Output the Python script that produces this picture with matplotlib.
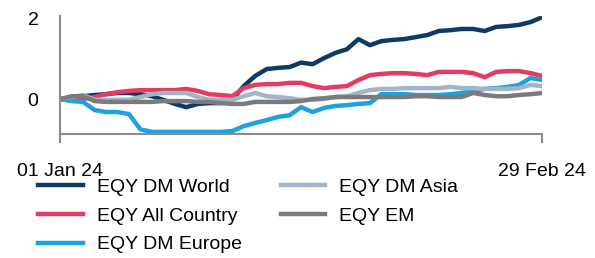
import matplotlib
matplotlib.use('Agg')
import matplotlib.pyplot as plt
import numpy as np

plt.rcParams['font.family'] = ['Liberation Sans', 'DejaVu Sans']

# Data
tick_labels = ['01 Jan 24', '29 Feb 24']

dm_world = [0.00, 0.02, 0.07, 0.10, 0.12, 0.15, 0.15, 0.12, 0.07, -0.02, -0.12,
            -0.20, -0.12, -0.10, -0.10, -0.02, 0.32, 0.57, 0.74, 0.77, 0.79,
            0.90, 0.86, 1.01, 1.14, 1.23, 1.48, 1.33, 1.43, 1.46, 1.48, 1.53,
            1.58, 1.68, 1.70, 1.73, 1.73, 1.68, 1.78, 1.80, 1.83, 1.90, 2.02]
all_country = [0.00, 0.00, 0.00, 0.05, 0.12, 0.17, 0.20, 0.22, 0.22, 0.22, 0.22,
               0.25, 0.20, 0.12, 0.10, 0.07, 0.27, 0.35, 0.37, 0.37, 0.40,
               0.40, 0.32, 0.27, 0.30, 0.32, 0.47, 0.59, 0.62, 0.64, 0.64, 0.62,
               0.59, 0.67, 0.67, 0.67, 0.64, 0.54, 0.67, 0.69, 0.69, 0.64, 0.57]
dm_europe = [0.00, -0.05, -0.07, -0.27, -0.32, -0.32, -0.37, -0.75, -0.81, -0.81, -0.81,
             -0.81, -0.81, -0.81, -0.81, -0.79, -0.67, -0.59, -0.52, -0.44, -0.40,
             -0.20, -0.32, -0.22, -0.17, -0.15, -0.12, -0.10, 0.12, 0.12, 0.12, 0.10,
             0.10, 0.10, 0.12, 0.15, 0.20, 0.25, 0.27, 0.30, 0.35, 0.52, 0.47]
dm_asia = [0.00, 0.05, 0.10, -0.02, -0.02, -0.02, -0.02, 0.05, 0.12, 0.15, 0.15,
           0.15, 0.05, -0.02, -0.02, -0.02, 0.07, 0.15, 0.07, 0.05, 0.02,
           -0.02, -0.02, 0.00, 0.05, 0.07, 0.15, 0.22, 0.25, 0.25, 0.27, 0.27,
           0.27, 0.27, 0.30, 0.27, 0.27, 0.25, 0.25, 0.25, 0.27, 0.35, 0.32]
em = [0.00, 0.07, 0.07, -0.05, -0.07, -0.07, -0.07, -0.07, -0.07, -0.05, -0.05,
      -0.05, -0.07, -0.07, -0.10, -0.12, -0.12, -0.07, -0.07, -0.07, -0.07,
      -0.05, 0.00, 0.02, 0.05, 0.05, 0.05, 0.05, 0.05, 0.05, 0.05, 0.07,
      0.07, 0.05, 0.05, 0.05, 0.15, 0.10, 0.07, 0.07, 0.10, 0.12, 0.15]

series = [
    ('EQY DM World', dm_world, '#0d3b66'),
    ('EQY All Country', all_country, '#e63b60'),
    ('EQY DM Europe', dm_europe, '#1aa3e0'),
    ('EQY DM Asia', dm_asia, '#a2b4c8'),
    ('EQY EM', em, '#7b7b7d'),
]

x = np.arange(len(dm_world))

fig = plt.figure(figsize=(5.95, 2.58), dpi=100)
ax = fig.add_axes([0.101, 0.481, 0.810, 0.457])

for name, vals, col in series:
    ax.plot(x, vals, color=col, lw=3.2, label=name, solid_joinstyle='round')

ax.set_xlim(0, len(x) - 1)
ax.set_ylim(-0.86, 2.05)

ax.set_yticks([0, 2])
ax.set_yticklabels(['0', '2'])
ax.tick_params(axis='y', length=0, pad=15.5, labelsize=14)

ax.set_xticks([0, len(x) - 1])
ax.set_xticklabels(tick_labels)
ax.tick_params(axis='x', length=6.5, width=1.5, color='#8c8c8c', pad=14.5, labelsize=14)

for s in ['top', 'right']:
    ax.spines[s].set_visible(False)
for s in ['left', 'bottom']:
    ax.spines[s].set_color('#8c8c8c')
    ax.spines[s].set_linewidth(1.5)

fig.legend(loc='upper left', bbox_to_anchor=(0.064, 0.31), ncol=2, frameon=False,
           fontsize=14, handlelength=2.3, columnspacing=2.0, labelspacing=0.58,
           handletextpad=0.72, borderaxespad=0, borderpad=0)

fig.savefig('out.png', dpi=100)
